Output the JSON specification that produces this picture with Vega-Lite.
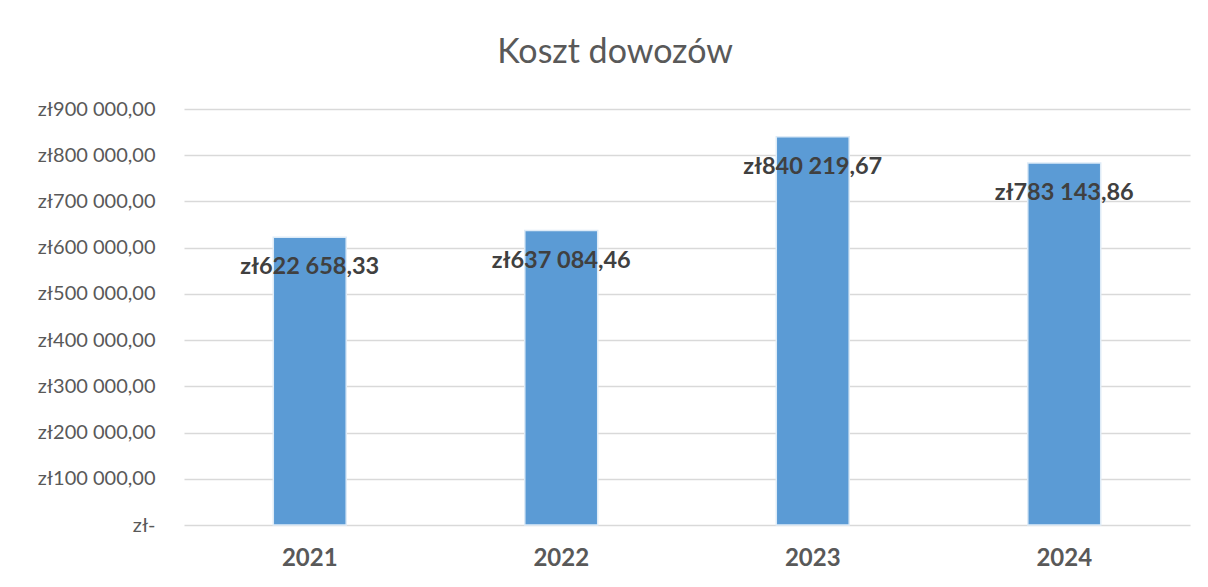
{
  "$schema": "https://vega.github.io/schema/vega-lite/v6.json",
  "width": 1006,
  "height": 416,
  "autosize": {"type": "none"},
  "padding": {"left": 184, "top": 109, "right": 18, "bottom": 62},
  "background": "white",
  "title": {
    "text": "Koszt dowozów",
    "fontSize": 34,
    "font": "Lato",
    "fontWeight": "normal",
    "color": "#595959",
    "anchor": "middle",
    "dx": -72,
    "offset": 29
  },
  "config": {
    "locale": {
      "number": {"decimal": ",", "thousands": " ", "grouping": [3], "currency": ["zł", ""]}
    },
    "view": {"stroke": null},
    "font": "Lato"
  },
  "data": {
    "values": [
      {"rok": "2021", "koszt": 622658.33},
      {"rok": "2022", "koszt": 637084.46},
      {"rok": "2023", "koszt": 840219.67},
      {"rok": "2024", "koszt": 783143.86}
    ]
  },
  "encoding": {
    "x": {
      "field": "rok",
      "type": "nominal",
      "sort": null,
      "scale": {"paddingInner": 0.71, "paddingOuter": 0.355},
      "axis": {
        "title": null,
        "labelAngle": 0,
        "ticks": false,
        "domain": false,
        "labelFontSize": 24,
        "labelFontWeight": "bold",
        "labelColor": "#595959",
        "labelPadding": 21
      }
    },
    "y": {
      "field": "koszt",
      "type": "quantitative",
      "scale": {"domain": [0, 900000]},
      "axis": {
        "title": null,
        "values": [0, 100000, 200000, 300000, 400000, 500000, 600000, 700000, 800000, 900000],
        "format": "$,.2f",
        "labelExpr": "datum.value == 0 ? 'zł-' : datum.label",
        "ticks": false,
        "domain": false,
        "labelFontSize": 20,
        "labelColor": "#595959",
        "labelPadding": 29,
        "gridColor": "#D9D9D9",
        "gridWidth": 1.5
      }
    }
  },
  "layer": [
    {
      "mark": {"type": "bar", "color": "#5B9BD5", "stroke": "#DEEBF7", "strokeWidth": 1.5}
    },
    {
      "mark": {"type": "text", "baseline": "middle", "dy": 30, "fontSize": 23.5, "fontWeight": "bold", "color": "#404040"},
      "encoding": {
        "text": {"field": "koszt", "type": "quantitative", "format": "$,.2f"}
      }
    }
  ]
}
